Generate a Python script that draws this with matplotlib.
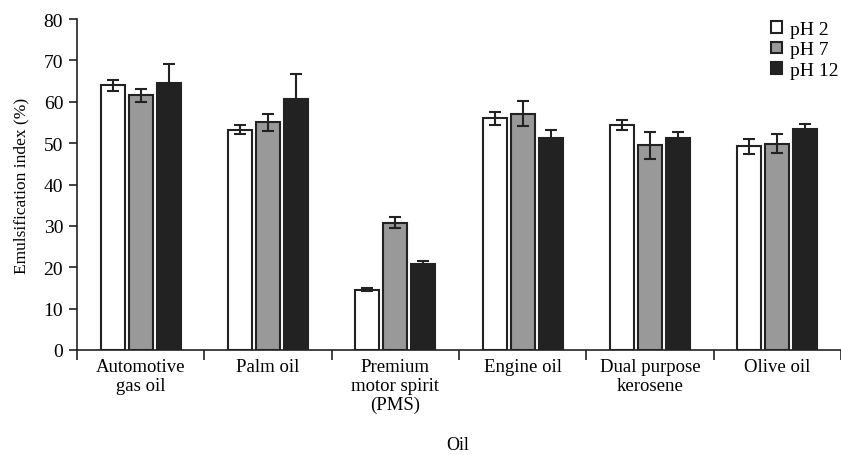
import matplotlib
matplotlib.use("Agg")
import matplotlib.pyplot as plt
import numpy as np

categories = ["Automotive\ngas oil", "Palm oil", "Premium\nmotor spirit\n(PMS)",
              "Engine oil", "Dual purpose\nkerosene", "Olive oil"]
series_names = ["pH 2", "pH 7", "pH 12"]
ph2 = [64.0, 53.2, 14.6, 56.0, 54.4, 49.2]
ph2_err = [1.3, 1.1, 0.4, 1.6, 1.3, 1.9]
ph7 = [61.6, 55.0, 30.8, 57.1, 49.5, 49.8]
ph7_err = [1.6, 2.1, 1.3, 3.0, 3.3, 2.3]
ph12 = [64.6, 60.7, 20.7, 51.3, 51.2, 53.5]
ph12_err = [4.5, 6.1, 0.7, 1.8, 1.6, 1.2]

colors = ["#ffffff", "#999999", "#222222"]
edge = "#222222"

plt.rcParams['font.family'] = ['Liberation Serif', 'DejaVu Serif']
plt.rcParams['font.size'] = 13

fig = plt.figure(figsize=(8.41, 4.56), dpi=100)
ax = fig.add_axes([0.0916, 0.2303, 0.9084, 0.7257])

x = np.arange(len(categories))
w = 0.19
off = 0.22
for i, (vals, errs) in enumerate([(ph2, ph2_err), (ph7, ph7_err), (ph12, ph12_err)]):
    ax.bar(x + (i - 1) * off, vals, w, color=colors[i], edgecolor=edge, linewidth=1.5,
           label=series_names[i], zorder=2)
    ax.errorbar(x + (i - 1) * off, vals, yerr=errs, fmt='none', ecolor=edge,
                elinewidth=1.5, capsize=4, capthick=1.5, zorder=3)

ax.set_xlim(-0.5, 5.5)
ax.set_ylim(0, 80)
ax.set_yticks(range(0, 81, 10))
ax.set_xticks(np.arange(-0.5, 6.0, 1.0))
ax.set_xticklabels([])
ax.set_xticks(x, minor=True)
ax.set_xticklabels(categories, minor=True, linespacing=1.12, fontsize=13.5)
ax.tick_params(axis='x', which='minor', length=0, pad=6)
ax.tick_params(axis='x', which='major', length=7, width=1.2, color=edge)
ax.tick_params(axis='y', length=6, width=1.2, color=edge, pad=4, labelsize=14)
for s in ['top', 'right']:
    ax.spines[s].set_visible(False)
for s in ['left', 'bottom']:
    ax.spines[s].set_linewidth(1.2)
    ax.spines[s].set_color(edge)

ax.set_ylabel("Emulsification index (%)", labelpad=10, fontsize=12.5)
fig.text(0.544, 0.022, "Oil", ha='center', va='center', fontsize=13)

leg = ax.legend(loc='upper right', bbox_to_anchor=(1.012, 1.03), frameon=False,
                fontsize=14, handlelength=0.55, handleheight=0.55, handletextpad=0.4,
                labelspacing=0.18, borderaxespad=0.2)

fig.savefig("out.png", dpi=100)
